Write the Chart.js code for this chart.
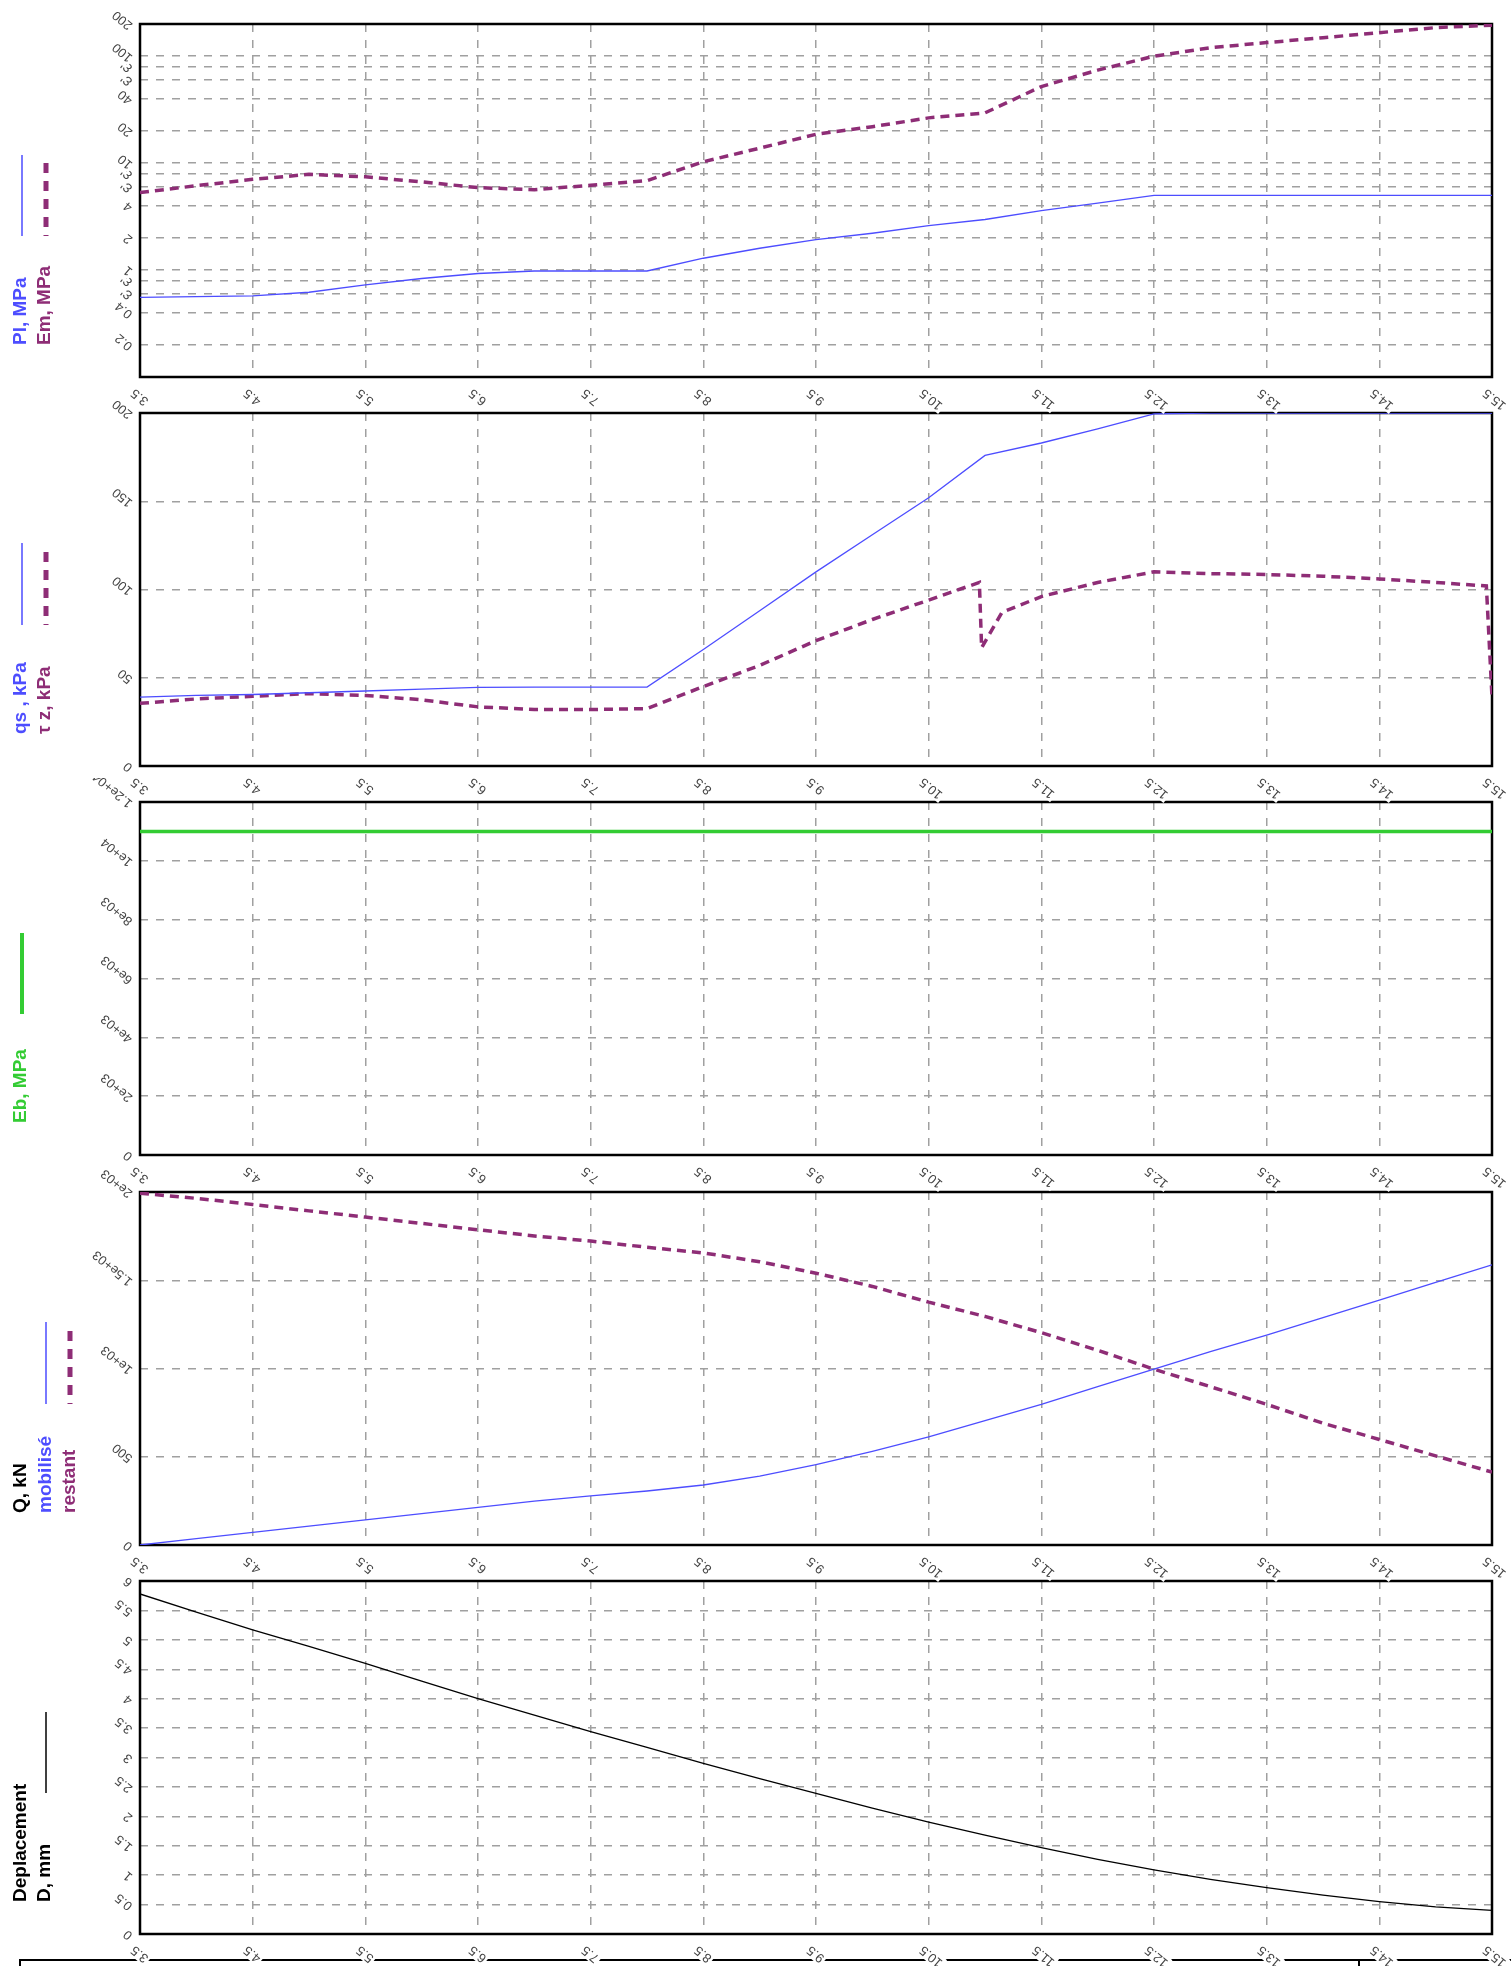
<!DOCTYPE html>
<html>
<head>
<meta charset="utf-8">
<script src="https://cdn.jsdelivr.net/npm/chart.js@4.4.0/dist/chart.umd.min.js"></script>
<style>
  html, body { margin: 0; padding: 0; background: #fff; }
  body { width: 1511px; height: 1966px; position: relative; overflow: hidden; }
  canvas { position: absolute; left: 0; }
  .ln { position: absolute; background: #000; }
</style>
</head>
<body>
<canvas id="c1" width="1511" height="430" style="top:0px;z-index:5"></canvas>
<canvas id="c2" width="1511" height="430" style="top:389px;z-index:4"></canvas>
<canvas id="c3" width="1511" height="430" style="top:778px;z-index:3"></canvas>
<canvas id="c4" width="1511" height="430" style="top:1168px;z-index:2"></canvas>
<canvas id="c5" width="1511" height="430" style="top:1557px;z-index:1"></canvas>
<div class="ln" style="left:19px;top:1959px;width:1492px;height:2px;z-index:0"></div>
<div class="ln" style="left:19px;top:1959px;width:2px;height:10px;z-index:0"></div>
<div class="ln" style="left:1358px;top:1959px;width:2px;height:10px;z-index:0"></div>
<script>
// depth (m) along the x axis
const depth = [3.5, 4, 4.5, 5, 5.5, 6, 6.5, 7, 7.5, 8, 8.5, 9, 9.5, 10, 10.5, 11, 11.5, 12, 12.5, 13, 13.5, 14, 14.5, 15, 15.5];
const xTicks = [3.5, 4.5, 5.5, 6.5, 7.5, 8.5, 9.5, 10.5, 11.5, 12.5, 13.5, 14.5, 15.5];
const xTickLabels = ['3.5', '4.5', '5.5', '6.5', '7.5', '8.5', '9.5', '10.5', '11.5', '12.5', '13.5', '14.5', '15.5'];

// panel 1 : Pl, Em (log scale)
const plMPa = [0.556, 0.564, 0.573, 0.62, 0.728, 0.834, 0.929, 0.98, 0.98, 0.98, 1.29, 1.6, 1.93, 2.21, 2.6, 2.97, 3.6, 4.22, 5.0, 5.0, 5.0, 5.0, 5.0, 5.0, 5.0];
const emMPa = [5.3, 6.15, 7.05, 7.85, 7.44, 6.68, 5.9, 5.65, 6.2, 6.86, 10.3, 13.8, 18.6, 21.9, 26.5, 29.5, 52, 74, 100, 120, 134, 149, 166, 185, 195];
const logTicks = [0.2, 0.4, 0.6, 0.8, 1, 2, 4, 6, 8, 10, 20, 40, 60, 80, 100, 200];
const logTickLabels = ['0.2', '0.4', "Ɛ'", "Ɛ'", '1', '2', '4', "Ɛ'", "Ɛ'", '10', '20', '40', "Ɛ'", "Ɛ'", '100', '200'];

// panel 2 : qs, tau z
const qsKPa = [39, 40, 40.5, 41.5, 42.5, 43.5, 44.5, 44.7, 44.7, 44.7, 66, 88, 110, 131, 152, 176, 183, 191, 199.5, 200, 200, 200, 200, 200, 200];
const tauDepth = [3.5, 4, 4.5, 5, 5.5, 6, 6.5, 7, 7.5, 8, 8.5, 9, 9.5, 10, 10.5, 10.95, 10.97, 11.15, 11.5, 12, 12.5, 13, 13.5, 14, 14.5, 15, 15.45, 15.5];
const tauKPa = [35.5, 38, 39.5, 41, 40, 37.5, 33.5, 32, 32, 32.5, 45, 57, 71, 83, 94, 104, 67, 87, 96, 104, 110, 109, 108.5, 107.5, 106, 104, 102, 39];
const kpaTicks = [0, 50, 100, 150, 200];
const kpaTickLabels = ['0', '50', '100', '150', '200'];

// panel 3 : Eb
const ebDepth = [3.5, 15.5];
const ebMPa = [11000, 11000];
const ebTicks = [0, 2000, 4000, 6000, 8000, 10000, 12000];
const ebTickLabels = ['0', '2e+03', '4e+03', '6e+03', '8e+03', '1e+04', '1.2e+04'];

// panel 4 : Q
const qMobilise = [0, 36, 71, 107, 142, 178, 213, 249, 278, 306, 340, 390, 455, 530, 612, 705, 797, 897, 996, 1096, 1189, 1288, 1388, 1488, 1587];
const qRestant = [1993, 1964, 1929, 1893, 1858, 1822, 1786, 1751, 1722, 1687, 1655, 1605, 1540, 1465, 1376, 1295, 1203, 1103, 996, 897, 797, 690, 598, 505, 413];
const qTicks = [0, 500, 1000, 1500, 2000];
const qTickLabels = ['0', '500', '1e+03', '1.5e+03', '2e+03'];

// panel 5 : D
const deplMm = [5.78, 5.47, 5.17, 4.89, 4.6, 4.3, 4.0, 3.72, 3.44, 3.17, 2.9, 2.64, 2.39, 2.14, 1.9, 1.68, 1.47, 1.27, 1.09, 0.93, 0.79, 0.66, 0.55, 0.46, 0.4];
const dTicks = [0, 0.5, 1, 1.5, 2, 2.5, 3, 3.5, 4, 4.5, 5, 5.5, 6];
const dTickLabels = ['0', '0.5', '1', '1.5', '2', '2.5', '3', '3.5', '4', '4.5', '5', '5.5', '6'];

const BLUE = '#4d4dff';
const PURPLE = '#8e2d76';
const GREEN = '#33cc33';
const ROT = -140 * Math.PI / 180;

function pts(xs, ys) { return xs.map((x, i) => ({x: x, y: ys[i]})); }

function rotLabel(ctx, text, px, py, align) {
  ctx.save();
  ctx.translate(px, py);
  ctx.rotate(ROT);
  const w = ctx.measureText(text).width;
  const x0 = align === 'left' ? 0 : -w;
  ctx.fillStyle = '#fff';
  ctx.fillRect(x0 - 2, -7, w + 4, 14);
  ctx.fillStyle = '#444';
  ctx.textAlign = align;
  ctx.fillText(text, 0, 0);
  ctx.restore();
}

const panelPlugin = {
  id: 'panel',
  beforeDatasetsDraw(chart) {
    const a = chart.chartArea, ctx = chart.ctx;
    ctx.save();
    ctx.strokeStyle = '#000';
    ctx.lineWidth = 2.5;
    ctx.strokeRect(a.left, a.top, a.right - a.left, a.bottom - a.top);
    ctx.restore();
  },
  afterDraw(chart, args, opts) {
    const ctx = chart.ctx, a = chart.chartArea;
    const xs = chart.scales.x, ys = chart.scales.y;
    ctx.save();
    ctx.font = '13px "Liberation Sans", Arial, sans-serif';
    ctx.textBaseline = 'middle';
    opts.yTicks.forEach((v, i) => {
      rotLabel(ctx, opts.yLabels[i], a.left - 9, ys.getPixelForValue(v) + 3, 'left');
    });
    xTicks.forEach((v, i) => {
      rotLabel(ctx, xTickLabels[i], xs.getPixelForValue(v) - 7, a.bottom + 14, 'right');
    });
    // side legend
    ctx.font = 'bold 19px "Liberation Sans", Arial, sans-serif';
    opts.texts.forEach(t => {
      ctx.save();
      ctx.translate(t.x, 345);
      ctx.rotate(-Math.PI / 2);
      ctx.fillStyle = t.color;
      ctx.textAlign = 'left';
      ctx.textBaseline = 'middle';
      ctx.fillText(t.text, 0, 0);
      ctx.restore();
    });
    opts.keys.forEach(k => {
      ctx.save();
      ctx.strokeStyle = k.color;
      ctx.lineWidth = k.width;
      ctx.setLineDash(k.dash || []);
      ctx.beginPath();
      ctx.moveTo(k.x, k.y0);
      ctx.lineTo(k.x, 236);
      ctx.stroke();
      ctx.restore();
    });
    ctx.restore();
  }
};

function makeChart(id, datasets, yScale, yTicks, yLabels, texts, keys) {
  const yOpts = Object.assign({
    grid: {color: '#a0a0a0', lineWidth: 1.5, drawTicks: false},
    border: {display: false, dash: [8, 8]},
    ticks: {display: false},
    afterBuildTicks: s => { s.ticks = yTicks.map(v => ({value: v})); }
  }, yScale);
  return new Chart(document.getElementById(id), {
    type: 'line',
    data: {datasets: datasets},
    options: {
      responsive: false,
      animation: false,
      layout: {padding: {left: 140, right: 19, top: 24, bottom: 53}},
      elements: {point: {radius: 0}, line: {tension: 0}},
      scales: {
        x: {
          type: 'linear', min: 3.5, max: 15.5,
          grid: {color: '#a0a0a0', lineWidth: 1.5, drawTicks: false},
          border: {display: false, dash: [8, 8]},
          ticks: {display: false},
          afterBuildTicks: s => { s.ticks = xTicks.map(v => ({value: v})); }
        },
        y: yOpts
      },
      plugins: {
        legend: {display: false},
        tooltip: {enabled: false},
        panel: {yTicks: yTicks, yLabels: yLabels, texts: texts, keys: keys}
      }
    },
    plugins: [panelPlugin]
  });
}

const solid = (c, w) => ({borderColor: c, borderWidth: w, fill: false});
const dashed = c => ({borderColor: c, borderWidth: 3.5, borderDash: [9, 6], fill: false});

makeChart('c1', [
  Object.assign({label: 'Pl', data: pts(depth, plMPa)}, solid(BLUE, 1.3)),
  Object.assign({label: 'Em', data: pts(depth, emMPa)}, dashed(PURPLE))
], {type: 'logarithmic', min: 0.1, max: 200}, logTicks, logTickLabels,
  [{text: 'Pl, MPa', color: BLUE, x: 21}, {text: 'Em, MPa', color: PURPLE, x: 45}],
  [{x: 22, y0: 155, color: BLUE, width: 1.5}, {x: 46, y0: 163, color: PURPLE, width: 5, dash: [10, 8]}]);

makeChart('c2', [
  Object.assign({label: 'qs', data: pts(depth, qsKPa)}, solid(BLUE, 1.3)),
  Object.assign({label: 'tau z', data: pts(tauDepth, tauKPa)}, dashed(PURPLE))
], {type: 'linear', min: 0, max: 200}, kpaTicks, kpaTickLabels,
  [{text: 'qs , kPa', color: BLUE, x: 21}, {text: 'τ z, kPa', color: PURPLE, x: 45}],
  [{x: 22, y0: 154, color: BLUE, width: 1.5}, {x: 46, y0: 163, color: PURPLE, width: 5, dash: [10, 8]}]);

makeChart('c3', [
  Object.assign({label: 'Eb', data: pts(ebDepth, ebMPa)}, solid(GREEN, 3.5))
], {type: 'linear', min: 0, max: 12000}, ebTicks, ebTickLabels,
  [{text: 'Eb, MPa', color: GREEN, x: 21}],
  [{x: 22, y0: 155, color: GREEN, width: 4}]);

makeChart('c4', [
  Object.assign({label: 'mobilisé', data: pts(depth, qMobilise)}, solid(BLUE, 1.3)),
  Object.assign({label: 'restant', data: pts(depth, qRestant)}, dashed(PURPLE))
], {type: 'linear', min: 0, max: 2000}, qTicks, qTickLabels,
  [{text: 'Q, kN', color: '#000', x: 21}, {text: 'mobilisé', color: BLUE, x: 46}, {text: 'restant', color: PURPLE, x: 70}],
  [{x: 46, y0: 154, color: BLUE, width: 1.5}, {x: 70, y0: 163, color: PURPLE, width: 5, dash: [10, 8]}]);

makeChart('c5', [
  Object.assign({label: 'D', data: pts(depth, deplMm)}, solid('#000', 1.3))
], {type: 'linear', min: 0, max: 6}, dTicks, dTickLabels,
  [{text: 'Deplacement', color: '#000', x: 21}, {text: 'D, mm', color: '#000', x: 45}],
  [{x: 46, y0: 155, color: '#000', width: 1.5}]);
</script>
</body>
</html>
